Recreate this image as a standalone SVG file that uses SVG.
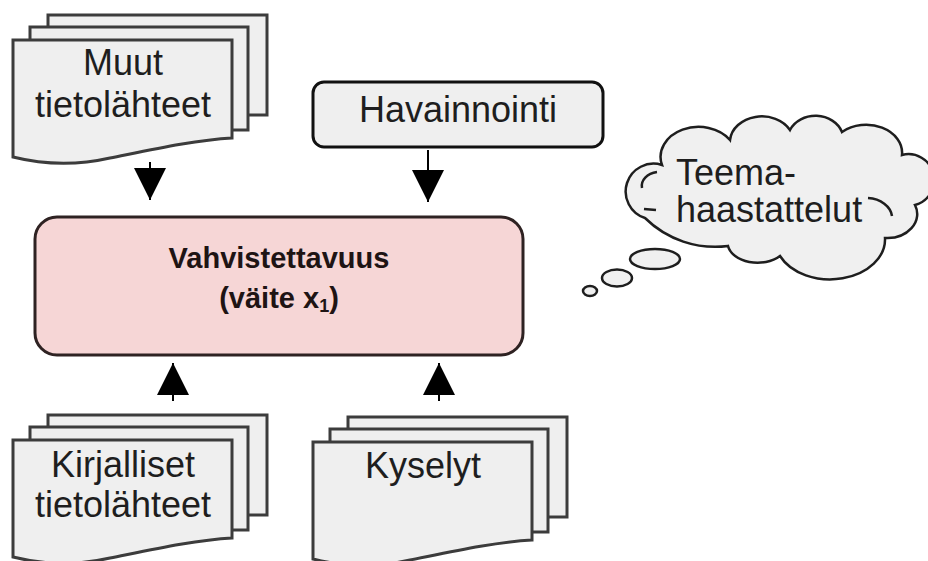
<svg xmlns="http://www.w3.org/2000/svg" width="928" height="561" viewBox="0 0 928 561">
  <style>
    .sheet { fill: #efefef; stroke: #3c3c3c; stroke-width: 3; stroke-linejoin: miter; }
    .lbl { font-family: "Liberation Sans", Arial, sans-serif; font-size: 36px; fill: #1e1e1e; }
    .bold { font-family: "Liberation Sans", Arial, sans-serif; font-size: 29px; font-weight: bold; fill: #1e1414; }
    .conn { stroke: #000; stroke-width: 2; fill: none; }
    .cloud { fill: #f0f0f0; stroke: #1e1e1e; stroke-width: 2.5; }
  </style>
  <defs>
    <marker id="arrow" viewBox="0 0 32 32" refX="32" refY="16" markerWidth="32" markerHeight="32" markerUnits="userSpaceOnUse" orient="auto">
      <path d="M0,0 L32,16 L0,32 Z" fill="#000"/>
    </marker>
    <g id="docstack">
      <rect class="sheet" x="48" y="15" width="219" height="100"/>
      <rect class="sheet" x="30" y="27" width="218" height="103"/>
      <path class="sheet" d="M13,40 H232 V138 C195,140 150,150 110,158 C75,166 45,165 13,157 Z"/>
    </g>
  </defs>
  <rect width="928" height="561" fill="#ffffff"/>

  <g id="muut">
    <use href="#docstack"/>
    <text class="lbl" x="123" y="75" text-anchor="middle">Muut</text>
    <text class="lbl" x="123" y="117" text-anchor="middle">tietolähteet</text>
  </g>

  <g id="havainnointi">
    <rect x="313" y="82" width="290" height="65" rx="11" ry="11" fill="#efefef" stroke="#111" stroke-width="3"/>
    <text class="lbl" x="458" y="122" text-anchor="middle">Havainnointi</text>
  </g>

  <g id="vahvistettavuus">
    <rect x="35" y="217" width="488" height="138" rx="22" ry="22" fill="#f6d6d6" stroke="#2e2222" stroke-width="3"/>
    <text class="bold" x="279" y="268" text-anchor="middle">Vahvistettavuus</text>
    <text class="bold" x="279" y="308" text-anchor="middle">(väite x<tspan font-size="18" dy="4">1</tspan><tspan dy="-4">)</tspan></text>
  </g>

  <g id="teemahaastattelut">
    <path class="cloud" d="M645,218 A24,24 0 0,1 662,165 A38,30 0 0,1 730,140 A32,26 0 0,1 790,130 A28,24 0 0,1 842,132 A36,28 0 0,1 902,155 A24,24 0 0,1 915,205 A30,24 0 0,1 885,238 A55,40 0 0,1 780,256 A30,20 0 0,1 728,246 A100,100 0 0,1 645,218 Z"/>
    <path d="M657,172 A18,14 0 0,0 642,188" fill="none" stroke="#1e1e1e" stroke-width="2.5"/>
    <path d="M868,198 A26,20 0 0,1 892,216" fill="none" stroke="#1e1e1e" stroke-width="2.5"/>
    <path d="M644,209 L656,210" fill="none" stroke="#1e1e1e" stroke-width="2.5"/>
    <ellipse class="cloud" cx="590" cy="291" rx="7" ry="5"/>
    <ellipse class="cloud" cx="617" cy="278" rx="15" ry="8.5"/>
    <ellipse class="cloud" cx="655" cy="259" rx="25" ry="10"/>
    <text class="lbl" x="676" y="185">Teema-</text>
    <text class="lbl" x="676" y="222">haastattelut</text>
  </g>

  <g id="kirjalliset">
    <use href="#docstack" transform="translate(0,400)"/>
    <text class="lbl" x="123" y="477" text-anchor="middle">Kirjalliset</text>
    <text class="lbl" x="123" y="517" text-anchor="middle">tietolähteet</text>
  </g>

  <g id="kyselyt">
    <use href="#docstack" transform="translate(300,402)"/>
    <text class="lbl" x="423" y="478" text-anchor="middle">Kyselyt</text>
  </g>

  <g id="connectors">
    <line class="conn" x1="150" y1="162" x2="150" y2="200" marker-end="url(#arrow)"/>
    <line class="conn" x1="428" y1="150" x2="428" y2="202" marker-end="url(#arrow)"/>
    <line class="conn" x1="173" y1="401" x2="173" y2="363" marker-end="url(#arrow)"/>
    <line class="conn" x1="439" y1="401" x2="439" y2="363" marker-end="url(#arrow)"/>
  </g>
</svg>
